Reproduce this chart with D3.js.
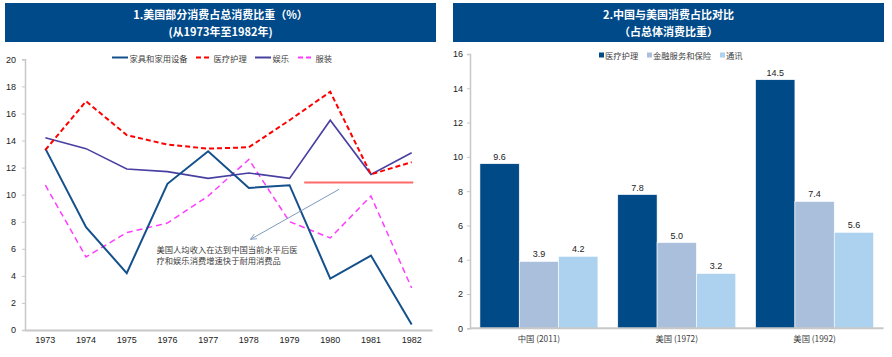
<!DOCTYPE html>
<html><head><meta charset="utf-8">
<script src="https://cdn.jsdelivr.net/npm/d3@7"></script>
<style>
html,body{margin:0;padding:0;background:#fff;}
svg text{font-family:"Liberation Sans",Arial,"Noto Sans CJK SC",sans-serif;}
.cjk{font-family:"Noto Sans CJK SC","Liberation Sans",sans-serif;}
</style></head>
<body><svg id="c" width="892" height="357"></svg>
<script>
// ---------- Chart 1 data ----------
const years = ["1973","1974","1975","1976","1977","1978","1979","1980","1981","1982"];
const furniture = [13.4,7.6,4.2,10.8,13.2,10.5,10.7,3.8,5.5,0.4];
const medical = [13.3,16.9,14.4,13.7,13.4,13.5,15.5,17.6,11.5,12.4];
const entertainment = [14.2,13.4,11.9,11.7,11.2,11.6,11.2,15.5,11.5,13.1];
const clothing = [10.7,5.4,7.2,7.9,9.9,12.6,8.0,6.8,9.9,3.1];
const seriesNames1 = ["家具和家用设备","医疗护理","娱乐","服装"];
const yTicks1 = [0,2,4,6,8,10,12,14,16,18,20];
const refLine = {from:6.36, to:9.04, value:10.9};
const arrow = {x1:7.22, y1:10.4, x2:5.04, y2:6.7};
const noteLines = ["美国人均收入在达到中国当前水平后医","疗和娱乐消费增速快于耐用消费品"];
const noteAnchor = {x:2.73, y:5.96};

// ---------- Chart 2 data ----------
const groups = ["中国 (2011)","美国 (1972)","美国 (1992)"];
const seriesNames2 = ["医疗护理","金融服务和保险","通讯"];
const medicalVals = [9.6,7.8,14.5];
const financeVals = [3.9,5.0,7.4];
const telecomVals = [4.2,3.2,5.6];
const yTicks2 = [0,2,4,6,8,10,12,14,16];

const titles1 = ["1.美国部分消费占总消费比重（%）","(从1973年至1982年)"];
const titles2 = ["2.中国与美国消费占比对比","（占总体消费比重）"];

const svg = d3.select("#c");
const navy = "#004a8a";
const axisGray = "#c8c8c8";

function titleBox(x0,x1,lines){
  svg.append("rect").attr("x",x0).attr("y",3).attr("width",x1-x0).attr("height",39).attr("fill",navy);
  lines.forEach((t,i)=>{
    svg.append("text").attr("class","cjk").attr("x",(x0+x1)/2).attr("y",14+i*17)
      .attr("text-anchor","middle").attr("dominant-baseline","central")
      .attr("fill","#fff").attr("font-weight","bold").attr("font-size","11px").text(t);
  });
}
titleBox(5,436,titles1);
titleBox(453,884,titles2);

// ---------- Chart 1 ----------
const x1 = d3.scaleBand().domain(years).range([25,432]);
const xi = d3.scaleLinear().domain([0,9]).range([x1(years[0])+x1.bandwidth()/2, x1(years[9])+x1.bandwidth()/2]);
const y1 = d3.scaleLinear().domain([0,20]).range([330,59.3]);

const g1 = svg.append("g");
// y axis
const ya1 = g1.append("g").attr("transform","translate(25,0)")
  .call(d3.axisLeft(y1).tickValues(yTicks1).tickSize(3).tickPadding(6));
ya1.select(".domain").attr("stroke",axisGray).attr("stroke-width",1.5);
ya1.selectAll(".tick line").attr("stroke",axisGray);
ya1.selectAll("text").attr("font-size","9px").attr("fill","#222");
// x axis
const xa1 = g1.append("g").attr("transform","translate(0,330)")
  .call(d3.axisBottom(x1).tickSize(0).tickPadding(7).tickSizeOuter(0));
xa1.select(".domain").attr("stroke",axisGray).attr("stroke-width",2);
xa1.selectAll("text").attr("font-size","9px").attr("fill","#222");

const series1 = [
  {name:seriesNames1[0], vals:furniture, color:"#14508b", w:2, dash:null},
  {name:seriesNames1[1], vals:medical, color:"#ff0000", w:2, dash:"5,3"},
  {name:seriesNames1[2], vals:entertainment, color:"#4840a0", w:1.6, dash:null},
  {name:seriesNames1[3], vals:clothing, color:"#ff3cff", w:1.5, dash:"6,4"}
];
const line = d3.line().x((d,i)=>xi(i)).y(d=>y1(d));
// draw order: clothing, entertainment, furniture, medical
[3,2,0,1].forEach(k=>{
  const s = series1[k];
  g1.append("path").datum(s.vals).attr("d",line).attr("fill","none")
    .attr("stroke",s.color).attr("stroke-width",s.w)
    .attr("stroke-dasharray",s.dash).attr("stroke-linejoin","miter");
});
// reference line
g1.append("line").attr("x1",xi(refLine.from)).attr("x2",xi(refLine.to))
  .attr("y1",y1(refLine.value)).attr("y2",y1(refLine.value))
  .attr("stroke","#ff6b6b").attr("stroke-width",2);
// arrow
svg.append("defs").append("marker").attr("id","ah").attr("viewBox","0 0 10 10")
  .attr("refX",9).attr("refY",5).attr("markerWidth",7).attr("markerHeight",7)
  .attr("orient","auto").attr("markerUnits","userSpaceOnUse")
  .append("path").attr("d","M0,1 L9,5 L0,9").attr("fill","none").attr("stroke","#7d9abb").attr("stroke-width",1.2);
g1.append("line").attr("x1",xi(arrow.x1)).attr("y1",y1(arrow.y1))
  .attr("x2",xi(arrow.x2)).attr("y2",y1(arrow.y2))
  .attr("stroke","#7d9abb").attr("stroke-width",1).attr("marker-end","url(#ah)");
// note
noteLines.forEach((t,i)=>{
  g1.append("text").attr("class","cjk").attr("x",xi(noteAnchor.x)).attr("y",y1(noteAnchor.y)+i*10.7)
    .attr("dominant-baseline","central").attr("font-size","8.3px").attr("fill","#404040").text(t);
});
// legend 1
const leg1X = [112,196,255,298];
series1.forEach((s,i)=>{
  const lg = g1.append("g").attr("transform",`translate(${leg1X[i]},57.5)`);
  lg.append("line").attr("x1",0).attr("x2",16).attr("stroke",s.color).attr("stroke-width",2)
    .attr("stroke-dasharray",s.dash?"5,3":null);
  lg.append("text").attr("class","cjk").attr("x",17.5).attr("dominant-baseline","central")
    .attr("font-size","8.3px").attr("fill","#404040").text(s.name);
});

// ---------- Chart 2 ----------
const x2 = d3.scaleBand().domain(groups).range([470,883.5]).paddingInner(0.144).paddingOuter(0.072);
const xs = d3.scaleBand().domain(seriesNames2).range([0,x2.bandwidth()]);
const y2 = d3.scaleLinear().domain([0,16]).range([328.3,54]);
const colors2 = ["#004a88","#a9bfdc","#acd2f0"];
const vals2 = [medicalVals, financeVals, telecomVals];

const g2 = svg.append("g");
const ya2 = g2.append("g").attr("transform","translate(470,0)")
  .call(d3.axisLeft(y2).tickValues(yTicks2).tickSize(3).tickPadding(4));
ya2.select(".domain").attr("stroke",axisGray).attr("stroke-width",1.5);
ya2.selectAll(".tick line").attr("stroke",axisGray);
ya2.selectAll("text").attr("font-size","9px").attr("fill","#222");

seriesNames2.forEach((sn,k)=>{
  groups.forEach((gname,j)=>{
    const v = vals2[k][j];
    const bx = x2(gname)+xs(sn);
    g2.append("rect").attr("x",bx).attr("y",y2(v)).attr("width",xs.bandwidth())
      .attr("height",y2(0)-y2(v)).attr("fill",colors2[k]).attr("stroke","#fff").attr("stroke-width",0.6);
    g2.append("text").attr("x",bx+xs.bandwidth()/2).attr("y",y2(v)-7)
      .attr("text-anchor","middle").attr("dominant-baseline","central")
      .attr("font-size","9px").attr("fill","#222").text(v.toFixed(1));
  });
});
const xa2 = g2.append("g").attr("transform","translate(0,328.3)")
  .call(d3.axisBottom(x2).tickSize(0).tickPadding(8).tickSizeOuter(0));
xa2.select(".domain").attr("stroke",axisGray).attr("stroke-width",2)
  .attr("d","M470,0H883.5");
xa2.selectAll("text").attr("class","cjk").attr("font-size","8.3px").attr("fill","#404040");

// legend 2
const leg2X = [599,647,720];
seriesNames2.forEach((sn,i)=>{
  const lg = g2.append("g").attr("transform",`translate(${leg2X[i]},55)`);
  lg.append("rect").attr("x",0).attr("y",-2.5).attr("width",5).attr("height",5).attr("fill",colors2[i]);
  lg.append("text").attr("class","cjk").attr("x",6).attr("dominant-baseline","central")
    .attr("font-size","8.3px").attr("fill","#404040").text(sn);
});
</script></body></html>
